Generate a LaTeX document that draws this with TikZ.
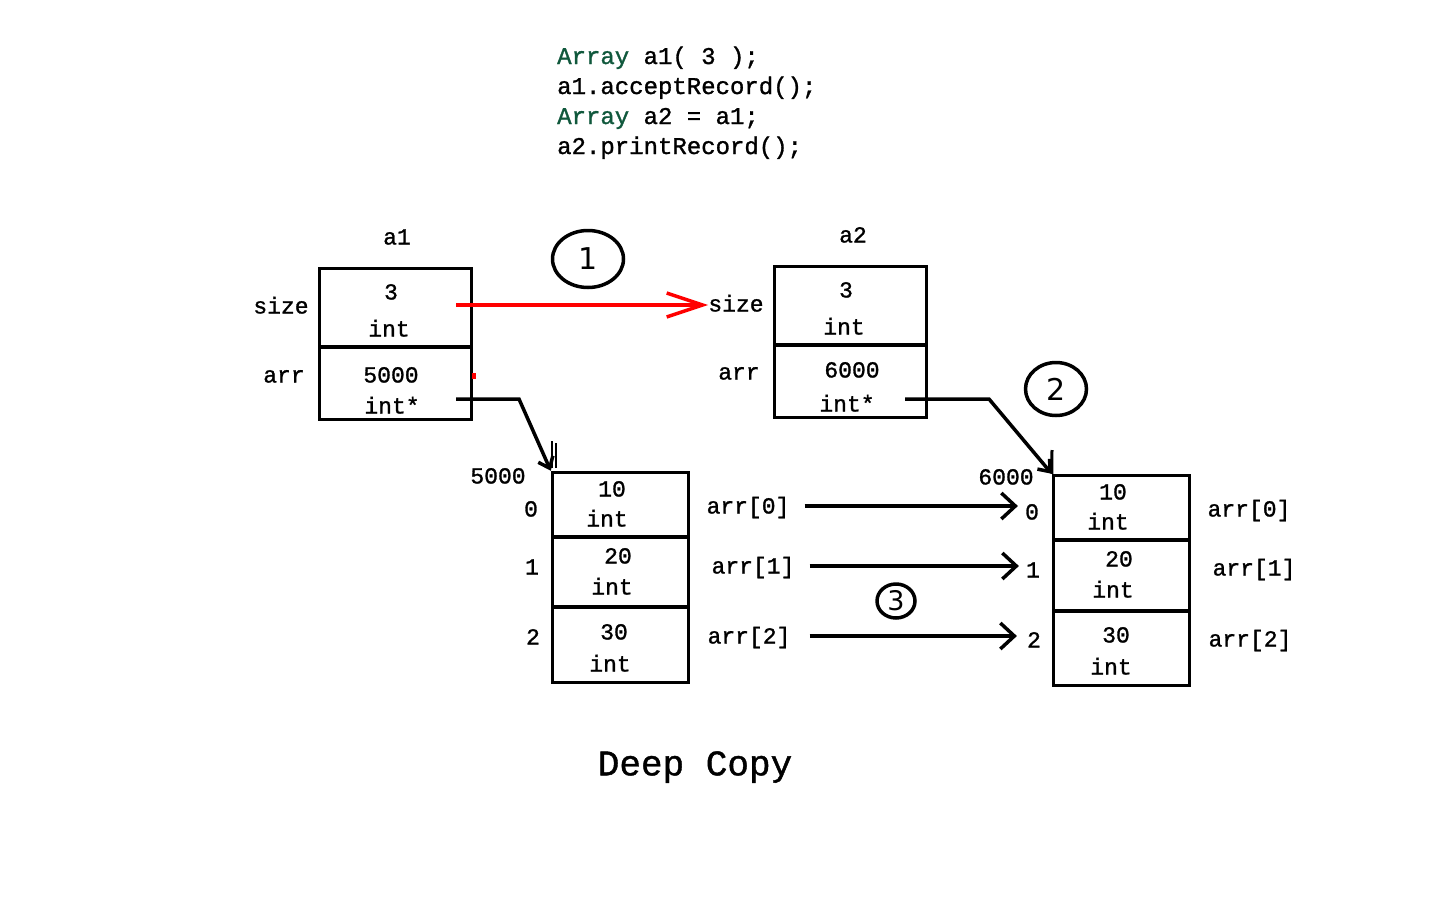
\documentclass[tikz,border=0pt]{standalone}
\usepackage{fontspec}
\setmonofont{Liberation Mono}[FakeBold=1.2]
\newfontfamily\numfont{DejaVu Sans}
\usepackage{tikz}
\usetikzlibrary{shapes.geometric,arrows.meta}
\definecolor{codegreen}{RGB}{16,88,60}

\begin{document}
\begin{tikzpicture}[x=1pt,y=-1pt,
  cell/.style={draw,line width=3.5pt,minimum width=152pt,inner sep=0pt},
  acell/.style={draw,line width=3.5pt,minimum width=136pt,inner sep=0pt},
  lbl/.style={font=\ttfamily\fontsize{23}{23}\selectfont,inner sep=0pt,text height=15pt,text depth=0pt},
  code/.style={font=\ttfamily\fontsize{24}{30}\selectfont,inner sep=0pt,anchor=base west},
  badge/.style={draw,ellipse,line width=3.5pt,inner sep=0pt,font=\numfont\fontsize{30}{30}\selectfont},
  link/.style={line width=3.5pt,-{Straight Barb[length=14pt,width=26pt]}},
]
\useasboundingbox (0,0) rectangle (1440,900);

% code
\node[code] (line1) at (557,64) {\textcolor{codegreen}{Array} a1( 3 );};
\node[code] (line2) at (557,94) {a1.acceptRecord();};
\node[code] (line3) at (557,124) {\textcolor{codegreen}{Array} a2 = a1;};
\node[code] (line4) at (557,154) {a2.printRecord();};

% object a1
\node[lbl] (a1name) at (397,237) {a1};
\node[cell,minimum height=78.5pt] (a1size) at (395.5,307.75) {};
\node[cell,minimum height=72.5pt] (a1arr) at (395.5,383.25) {};
\node[lbl] (a1sizev) at (391,292) {3};
\node[lbl] (a1sizet) at (389,329) {int};
\node[lbl] (a1arrv) at (391,375) {5000};
\node[lbl] (a1arrt) at (392,406) {int*};
\node[lbl] (a1sizel) at (281,306) {size};
\node[lbl] (a1arrl) at (284,375) {arr};
\fill[red] (472,373) rectangle (476,379);

% object a2
\node[lbl] (a2name) at (853,235) {a2};
\node[cell,minimum height=78.5pt] (a2size) at (850.5,305.75) {};
\node[cell,minimum height=72.5pt] (a2arr) at (850.5,381.25) {};
\node[lbl] (a2sizev) at (846,290) {3};
\node[lbl] (a2sizet) at (844,327) {int};
\node[lbl] (a2arrv) at (852,370) {6000};
\node[lbl] (a2arrt) at (847,404) {int*};
\node[lbl] (a2sizel) at (736,304) {size};
\node[lbl] (a2arrl) at (739,372) {arr};

% heap block of a1
\node[acell,minimum height=64.5pt] (arr1a) at (620.5,504.75) {};
\node[acell,minimum height=70pt] (arr1b) at (620.5,572) {};
\node[acell,minimum height=75.5pt] (arr1c) at (620.5,644.75) {};
\node[lbl] (arr1av) at (612,489) {10};
\node[lbl] (arr1at) at (607,519) {int};
\node[lbl] (arr1bv) at (618,556) {20};
\node[lbl] (arr1bt) at (612,587) {int};
\node[lbl] (arr1cv) at (614,632) {30};
\node[lbl] (arr1ct) at (610,664) {int};
\node[lbl] (arr1addr) at (498,476) {5000};
\node[lbl] (arr1i0) at (531,509) {0};
\node[lbl] (arr1i1) at (532,567) {1};
\node[lbl] (arr1i2) at (533,637) {2};
\node[lbl] (arr1l0) at (748,506) {arr[0]};
\node[lbl] (arr1l1) at (753,566) {arr[1]};
\node[lbl] (arr1l2) at (749,636) {arr[2]};

% heap block of a2
\node[acell,minimum height=64.5pt] (arr2a) at (1121.5,507.75) {};
\node[acell,minimum height=71pt] (arr2b) at (1121.5,575.5) {};
\node[acell,minimum height=74.5pt] (arr2c) at (1121.5,648.25) {};
\node[lbl] (arr2av) at (1113,492) {10};
\node[lbl] (arr2at) at (1108,522) {int};
\node[lbl] (arr2bv) at (1119,559) {20};
\node[lbl] (arr2bt) at (1113,590) {int};
\node[lbl] (arr2cv) at (1116,635) {30};
\node[lbl] (arr2ct) at (1111,667) {int};
\node[lbl] (arr2addr) at (1006,477) {6000};
\node[lbl] (arr2i0) at (1032,512) {0};
\node[lbl] (arr2i1) at (1033,570) {1};
\node[lbl] (arr2i2) at (1034,640) {2};
\node[lbl] (arr2l0) at (1249,509) {arr[0]};
\node[lbl] (arr2l1) at (1254,568) {arr[1]};
\node[lbl] (arr2l2) at (1250,639) {arr[2]};

% steps
\node[badge,minimum width=71pt,minimum height=57pt] (step1) at (588,259) {1};
\node[badge,minimum width=61pt,minimum height=53pt] (step2) at (1056,389) {2};
\node[badge,minimum width=38pt,minimum height=34pt,font=\numfont\fontsize{27}{27}\selectfont] (step3) at (896,601) {3};

\node[font=\ttfamily\fontsize{36}{36}\selectfont,inner sep=0pt] (title) at (695,767) {Deep Copy};

% connectors
\coordinate (a1sizeptr) at (456,305);
\coordinate (a1ptr) at (456,399);
\coordinate (a2ptr) at (905,399);
\draw[link,red,-{Straight Barb[length=36pt,width=24pt]}] (a1sizeptr) -- (a1sizeptr -| a2sizel.west);
\draw[link,-{Straight Barb[length=10pt,width=16pt]}] (a1ptr) -- (519,399) -- (arr1a.north west);
\draw[line width=1.2pt] (552,441) -- (552,468) (556,443) -- (556,468);
\draw[link,-{Straight Barb[length=10pt,width=16pt]}] (a2ptr) -- (989,399) -- (arr2a.north west);
\draw[line width=3pt] (1052,450) -- (arr2a.north west);
\draw[link,shorten <=15pt,shorten >=7pt] (arr1l0.east) -- (arr1l0.east -| arr2i0.west);
\draw[link,shorten <=15pt,shorten >=7pt] (arr1l1.east) -- (arr1l1.east -| arr2i1.west);
\draw[link,shorten <=19pt,shorten >=10pt] (arr1l2.east) -- (arr1l2.east -| arr2i2.west);
\end{tikzpicture}
\end{document}
